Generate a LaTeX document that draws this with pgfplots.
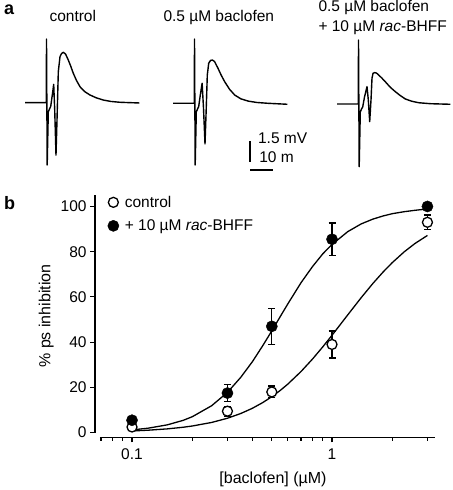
\documentclass[border=0pt]{standalone}
\usepackage{fontspec}
\setmainfont{Liberation Sans}
\usepackage{pgfplots}
\usepackage{pgfplotstable}
\pgfplotsset{compat=1.18}

\pgfplotstableread{
x y e
0.1 2.5 1.0
0.3 9.5 2.2
0.5 18 2.6
1 39 6
3 93 3.2
}\control
\pgfplotstableread{
x y e
0.1 5.5 1.0
0.3 17.5 3.7
0.5 47 8
1 85.5 7.2
3 100 0.5
}\bhff

\newcommand{\fs}{\fontsize{15.5bp}{18bp}\selectfont}

\begin{document}
\begin{tikzpicture}[font=\fs]
\useasboundingbox (0,0) rectangle (453bp,490bp);

% panel a titles
\node[font=\fontsize{18bp}{20bp}\selectfont\bfseries, anchor=base west, inner sep=0pt] at (4bp,475bp) {a};
\node[anchor=base, inner sep=0pt] at (72.8bp,468.3bp) {control};
\node[anchor=base, inner sep=0pt] at (218.8bp,468.3bp) {0.5 µM baclofen};
\node[anchor=base west, inner sep=0pt] at (318.3bp,478.3bp) {0.5 µM baclofen};
\node[anchor=base west, inner sep=0pt] at (318.3bp,458.3bp) {+ 10 µM \textit{rac}-BHFF};

% trace 1: control
\begin{axis}[at={(24.2bp,317.3bp)}, anchor=south west, scale only axis,
  x=2.25bp, y=14bp, xmin=-10, xmax=42, ymin=-5, ymax=5, hide axis, clip=false]
\addplot[black, line width=1.4bp, line join=round] coordinates {
(-9.64,0) (-0.18,0) (-0.09,4.55) (0.22,-4.45) (0.71,-0.66) (1.24,-0.45) (1.78,-0.27)
(2.49,0.55) (3.11,1.31) (3.56,-0.52) (4.13,-3.74) (4.58,-1.24) (5.16,2.21) (5.91,3.29)
(6.58,3.51) (7.38,3.6) (8.36,3.48) (9.6,3.05) (10.7,2.6) (11.82,2.1) (13.2,1.6) (14.8,1.14)
(16.8,0.8) (19.24,0.55) (22,0.35) (25.16,0.19) (28.5,0.09) (32.58,0.03) (41.16,-0.02)};
\end{axis}

% trace 2: 0.5 uM baclofen, with scale bar
\begin{axis}[at={(172.2bp,316.7bp)}, anchor=south west, scale only axis,
  x=2.25bp, y=14bp, xmin=-10, xmax=42, ymin=-5, ymax=5, hide axis, clip=false]
\addplot[black, line width=1.4bp, line join=round] coordinates {
(-9.64,0) (-0.18,0) (-0.09,4.59) (0.22,-4.41) (0.71,-0.62) (1.24,-0.41) (1.78,-0.23)
(2.49,0.59) (3.3,1.43) (3.9,-0.3) (4.58,-2.9) (5.1,-0.5) (5.6,2.02) (6.22,2.86)
(7.02,3.06) (7.82,3.09) (8.8,2.99) (10.36,2.5) (11.8,2.0) (13.33,1.54) (15.5,1.0)
(17.78,0.59) (20.5,0.32) (23.69,0.16) (27.5,0.06) (32.58,0) (41.16,-0.07)};
\addplot[black, line width=1.2bp] coordinates {(24.58,-2.7) (24.58,-4.2)};
\addplot[black, line width=1.2bp] coordinates {(24.58,-4.76) (34.58,-4.76)};
\node[anchor=base west, inner sep=0pt] at (axis cs:28.1,-2.84) {1.5 mV};
\node[anchor=base west, inner sep=0pt] at (axis cs:28.6,-4.26) {10 m};
\end{axis}

% trace 3: baclofen + rac-BHFF
\begin{axis}[at={(336.2bp,316bp)}, anchor=south west, scale only axis,
  x=2.25bp, y=14bp, xmin=-10, xmax=42, ymin=-5, ymax=5, hide axis, clip=false]
\addplot[black, line width=1.4bp, line join=round] coordinates {
(-9.64,0) (-0.18,0) (-0.09,4.57) (0.22,-4.48) (0.71,-0.57) (1.24,-0.36) (1.78,-0.21)
(2.58,0.5) (3.69,1.24) (4.27,0.29) (4.89,-1.26) (5.47,0.29) (5.91,1.84) (6.36,2.19)
(7.11,2.24) (7.91,2.21) (8.89,2.07) (10.3,1.85) (11.82,1.59) (14,1.2) (16.27,0.88)
(18.5,0.6) (20.71,0.36) (23.5,0.2) (26.67,0.09) (32,0.02) (40.71,-0.02)};
\end{axis}

% panel b
\node[font=\fontsize{18bp}{20bp}\selectfont\bfseries, anchor=base west, inner sep=0pt] at (4bp,280bp) {b};
\begin{axis}[
  at={(95bp,52.7bp)}, anchor=south west,
  scale only axis, width=340bp, height=242.6bp,
  xmode=log, xmin=0.0653, xmax=3.273, ymin=-2.05, ymax=105.2,
  axis x line=bottom, axis y line=left,
  x axis line style={-, shorten <=5bp, line width=1.2bp},
  y axis line style={-, shorten <=4.6bp, line width=1.2bp},
  tick align=outside,
  major tick length=5bp, minor tick length=3.5bp,
  every tick/.style={line width=1.1bp, black},
  xtick={0.1,1}, xticklabels={0.1,1},
  minor xtick={0.07,0.08,0.09,0.2,0.3,0.4,0.5,0.6,0.7,0.8,0.9,2,3},
  ytick={0,20,40,60,80,100},
  /pgf/number format/assume math mode=true,
  tick label style={font=\fs},
  xticklabel style={yshift=-3bp},
  label style={font=\fontsize{16bp}{18bp}\selectfont},
  xlabel style={yshift=-5bp, xshift=8bp},
  xlabel={[baclofen] (µM)},
  ylabel={\% ps inhibition},
  clip=false,
  legend style={draw=none, fill=none, font=\fs, at={(axis description cs:0.027,1.012)}, anchor=north west,
    row sep=7bp},
  legend cell align=left,
  legend image code/.code={\draw[#1] plot coordinates {(0bp,0bp)}; \path[draw=none, fill=none] (-6bp,-0.1bp) rectangle (9.5bp,0.1bp);},
]
\addplot[black, line width=1.3bp, forget plot] coordinates {
(0.1,0.75) (0.12,1.08) (0.15,1.67) (0.18,2.39) (0.2,2.94) (0.25,4.51) (0.3,6.37) (0.35,8.48)
(0.4,10.79) (0.45,13.28) (0.5,15.90) (0.55,18.62) (0.6,21.40) (0.7,27.03) (0.8,32.61)
(0.9,37.98) (1.0,43.06) (1.2,52.13) (1.4,59.71) (1.6,65.94) (1.8,71.01) (2.0,75.15)
(2.3,80.00) (2.6,83.64) (3.0,87.19)};
\addplot[black, line width=1.3bp, forget plot] coordinates {
(0.1,1.23) (0.12,1.96) (0.15,3.45) (0.18,5.43) (0.2,7.03) (0.25,11.9) (0.3,17.8) (0.35,24.5)
(0.4,31.4) (0.45,38.4) (0.5,45.0) (0.55,51.2) (0.6,56.8) (0.7,66.3) (0.8,73.5) (0.9,79.1)
(1.0,83.2) (1.2,88.9) (1.4,92.3) (1.6,94.4) (1.8,95.8) (2.0,96.8) (2.3,97.7) (2.6,98.3)
(3.0,98.9)};
\addplot[black, only marks, mark=*, mark size=5bp, mark options={fill=white, line width=1.3bp},
  error bars/.cd, y dir=both, y explicit,
  error bar style={line width=1.3bp, black},
  error mark options={rotate=90, mark size=3.5bp, line width=1.3bp, black}]
  table[x=x, y=y, y error=e] {\control};
\addlegendentry{control}
\addplot[black, only marks, mark=*, mark size=5.6bp, mark options={fill=black},
  error bars/.cd, y dir=both, y explicit,
  error bar style={line width=1.3bp, black},
  error mark options={rotate=90, mark size=3.5bp, line width=1.3bp, black}]
  table[x=x, y=y, y error=e] {\bhff};
\addlegendentry{+ 10 µM \textit{rac}-BHFF}
\end{axis}
\end{tikzpicture}
\end{document}
